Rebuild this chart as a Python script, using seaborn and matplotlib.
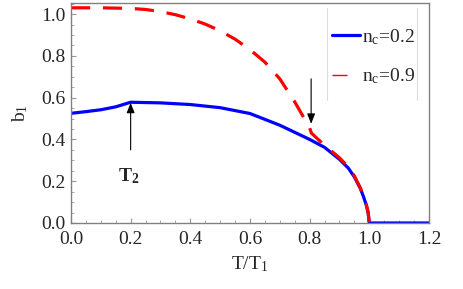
import numpy as np
import matplotlib
matplotlib.use("Agg")
import matplotlib.pyplot as plt
import seaborn as sns
from matplotlib.lines import Line2D
from matplotlib.ticker import MultipleLocator

# ---------- DATA ----------
T_blue = [0.0, 0.05, 0.10, 0.15, 0.20, 0.30, 0.40, 0.50, 0.60, 0.70, 0.80,
          0.85, 0.90, 0.93, 0.95, 0.97, 0.98, 0.99, 0.996, 1.0, 1.1, 1.2]
b_blue = [0.525, 0.533, 0.542, 0.556, 0.578, 0.575, 0.567, 0.552, 0.524, 0.468, 0.400,
          0.362, 0.305, 0.262, 0.220, 0.165, 0.128, 0.085, 0.05, 0.0, 0.0, 0.0]

T_red = [0.0, 0.1, 0.2, 0.25, 0.3, 0.35, 0.4, 0.45, 0.5, 0.55, 0.6, 0.65, 0.7, 0.75,
         0.8, 0.806, 0.85, 0.9, 0.93, 0.95, 0.97, 0.98, 0.99, 0.996, 1.0]
b_red = [1.03, 1.03, 1.027, 1.022, 1.012, 0.997, 0.977, 0.952, 0.92, 0.88, 0.83, 0.77,
         0.69, 0.58, 0.455, 0.43, 0.372, 0.312, 0.268, 0.225, 0.168, 0.13, 0.087, 0.052, 0.0]

labels = [r"n$_\mathrm{c}$=0.2", r"n$_\mathrm{c}$=0.9"]

# arrows: (x, tail y, tip y)
arrow_T2 = (0.2, 0.35, 0.575)
arrow_kink = (0.805, 0.69, 0.475)

# ---------- STYLE ----------
sns.set_style("ticks", {"axes.spines.top": True, "axes.spines.right": True})
plt.rcParams["font.family"] = ["Liberation Serif", "DejaVu Serif"]
plt.rcParams["mathtext.fontset"] = "custom"
plt.rcParams["mathtext.rm"] = "Liberation Serif"
plt.rcParams["mathtext.bf"] = "Liberation Serif:bold"
plt.rcParams["mathtext.it"] = "Liberation Serif:italic"

fig = plt.figure(figsize=(4.63, 2.89), dpi=100)
ax = fig.add_axes([0.1533, 0.2284, 0.7732, 0.7612])

sns.lineplot(x=T_blue, y=b_blue, ax=ax, color="#0000ff", lw=2.3, estimator=None)
sns.lineplot(x=T_red, y=b_red, ax=ax, color="#ff0000", lw=2.3, estimator=None,
             linestyle=(0, (6, 4)))

ax.set_xlim(0, 1.2)
ax.set_ylim(0, 1.053)
ax.xaxis.set_major_locator(MultipleLocator(0.2))
ax.xaxis.set_minor_locator(MultipleLocator(0.05))
ax.yaxis.set_major_locator(MultipleLocator(0.2))
ax.yaxis.set_minor_locator(MultipleLocator(0.05))
ax.set_xticklabels([f"{v:.1f}" for v in ax.get_xticks()])
ax.set_yticklabels([f"{v:.1f}" for v in ax.get_yticks()])

ax.tick_params(which="both", direction="in", color="#999999", labelsize=14,
               top=False, right=False)
ax.tick_params(which="major", length=3.5, width=0.8)
ax.tick_params(which="minor", length=2, width=0.6)
ax.tick_params(axis="x", pad=6)
ax.tick_params(axis="y", pad=4)
for side in ["left", "bottom", "top", "right"]:
    ax.spines[side].set_visible(True)
    ax.spines[side].set_color("#808080")
    ax.spines[side].set_linewidth(1.0)
    ax.spines[side].set_zorder(5)

ax.set_xlabel(r"T/T$_1$", fontsize=14, labelpad=4)
ax.set_ylabel(r"b$_1$", fontsize=14, labelpad=8)

# ---------- ARROWS / LABELS ----------
for x, y0, y1 in [arrow_T2, arrow_kink]:
    ax.annotate("", xy=(x, y1), xytext=(x, y0),
                arrowprops=dict(arrowstyle="-|>,head_length=0.5,head_width=0.2",
                                color="black", lw=0.8, mutation_scale=12,
                                shrinkA=0, shrinkB=0))
ax.text(0.195, 0.225, r"$\mathbf{T_2}$", fontsize=14, ha="center", va="center")

# ---------- LEGEND ----------
handles = [Line2D([], [], color="#0000ff", lw=2.3),
           Line2D([], [], color="#ff0000", lw=1.0, linestyle=(0, (10.8, 30)))]
ax.legend(handles, labels, loc="upper left", bbox_to_anchor=(0.728, 0.89),
          frameon=False, fontsize=14, borderpad=0, borderaxespad=0,
          handlelength=1.46, handletextpad=0.1, labelspacing=1.0)
for xv in [0.858, 1.160]:
    ax.axvline(xv, ymin=0.56, ymax=0.977, color="#dddddd", lw=0.8)

fig.savefig("out.png", dpi=100)
